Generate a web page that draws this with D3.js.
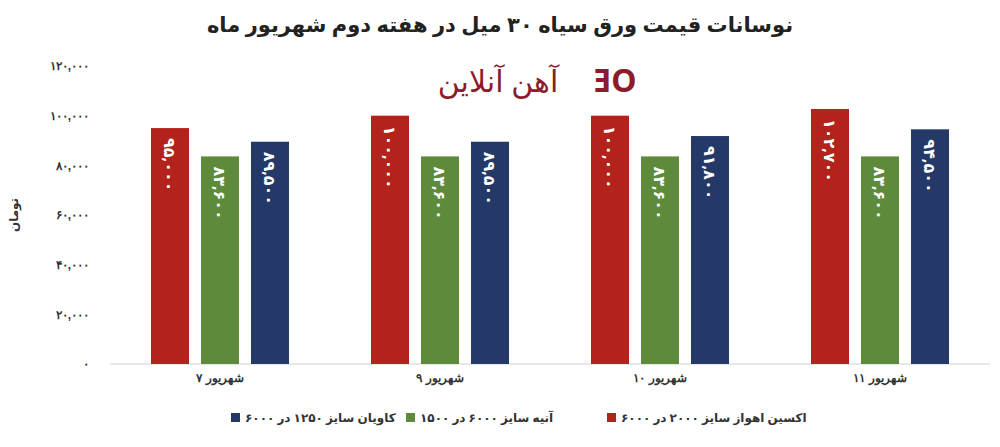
<!DOCTYPE html>
<html><head><meta charset="utf-8">
<script src="https://cdn.jsdelivr.net/npm/d3@7"></script>
<style>body{margin:0;background:#fff;font-family:"Noto Sans","DejaVu Sans",sans-serif}</style>
</head><body><div id="vis"></div>
<script>
const W = 1000, H = 447;
const MARGINS = {left: 110, right: 10, top: 66, bottom: 83};

const categories = ["شهریور ۷", "شهریور ۹", "شهریور ۱۰", "شهریور ۱۱"];
const seriesNames = ["اکسین اهواز سایز ۲۰۰۰ در ۶۰۰۰", "آنیه  سایز ۶۰۰۰ در ۱۵۰۰", "کاویان سایز ۱۲۵۰ در ۶۰۰۰"];
const ahvaz = [95000, 100000, 100000, 102700];
const anieh = [83600, 83600, 83600, 83600];
const kavian = [89500, 89500, 91800, 94500];
const yTicks = [0, 20000, 40000, 60000, 80000, 100000, 120000];
const COLORS = ["#b3221b", "#5e8a3c", "#243968"];

const fa = n => d3.format(",")(n).replace(/\d/g, d => "۰۱۲۳۴۵۶۷۸۹"[d]);
const series = [ahvaz, anieh, kavian];

const svg = d3.select("#vis").append("svg").attr("width", W).attr("height", H);
svg.append("rect").attr("width", W).attr("height", H).attr("fill", "#fff");

const X = d3.scaleBand().domain(categories).range([MARGINS.left, W - MARGINS.right]);
const XS = d3.scaleBand().domain([0, 1, 2]).range([0, X.bandwidth()]).paddingInner(0.24).paddingOuter(0.82);
const Y = d3.scaleLinear().domain([0, 120000]).range([H - MARGINS.bottom, MARGINS.top]);

svg.append("text").attr("x", 500).attr("y", 32).attr("text-anchor", "middle")
  .attr("font-size", 21).attr("font-weight", "bold").attr("fill", "#222")
  .text("نوسانات قیمت ورق سیاه ۳۰ میل در هفته دوم شهریور ماه");

// logo
svg.append("text").attr("x", 498).attr("y", 92).attr("text-anchor", "middle")
  .attr("font-size", 30).attr("fill", "#8a1c2b").text("آهن آنلاین");
svg.append("text").attr("x", 615).attr("y", 92).attr("text-anchor", "middle")
  .attr("font-size", 32).attr("font-weight", "bold").attr("fill", "#8a1c2b").attr("direction", "ltr").text("ƎO");

// y axis
svg.append("g").attr("transform", `translate(${MARGINS.left - 18},0)`)
  .call(d3.axisLeft(Y).tickValues(yTicks).tickFormat(fa).tickSize(0))
  .call(g => g.select(".domain").remove())
  .selectAll("text").attr("font-size", 12).attr("font-weight", "bold").attr("fill", "#333");
svg.append("text").attr("transform", "translate(18,215) rotate(-90)").attr("text-anchor", "middle")
  .attr("font-size", 12).attr("font-weight", "bold").attr("fill", "#333").text("تومان");

// baseline
svg.append("line").attr("x1", MARGINS.left).attr("x2", W - MARGINS.right)
  .attr("y1", Y(0)).attr("y2", Y(0)).attr("stroke", "#d0d0d0");

// bars
categories.forEach((c, i) => {
  const g = svg.append("g").attr("transform", `translate(${X(c)},0)`);
  series.forEach((s, j) => {
    const x = XS(j), v = s[i];
    g.append("rect").attr("x", x).attr("width", XS.bandwidth())
      .attr("y", Y(v)).attr("height", Y(0) - Y(v)).attr("fill", COLORS[j]);
    g.append("text").attr("transform", `translate(${x + XS.bandwidth() / 2},${Y(v) + 10}) rotate(90)`)
      .attr("dominant-baseline", "central").attr("font-size", 16).attr("font-weight", "bold")
      .attr("fill", "#fff").attr("direction", "ltr").text(fa(v));
  });
});

// x axis
svg.append("g").attr("transform", `translate(0,${Y(0) + 6})`)
  .call(d3.axisBottom(X).tickSize(0))
  .call(g => g.select(".domain").remove())
  .selectAll("text").attr("font-size", 12).attr("font-weight", "bold").attr("fill", "#333")
  .attr("direction", "rtl").attr("text-anchor", "middle");

// legend: square on the left, text to its right
const legX = [607, 406, 231];
seriesNames.forEach((n, j) => {
  svg.append("rect").attr("x", legX[j]).attr("y", 413).attr("width", 9).attr("height", 9).attr("fill", COLORS[j]);
  svg.append("text").attr("x", legX[j] + 14).attr("y", 422).attr("text-anchor", "end")
    .attr("direction", "rtl").attr("font-size", 12).attr("font-weight", "bold").attr("fill", "#333").text(n);
});
</script></body></html>
